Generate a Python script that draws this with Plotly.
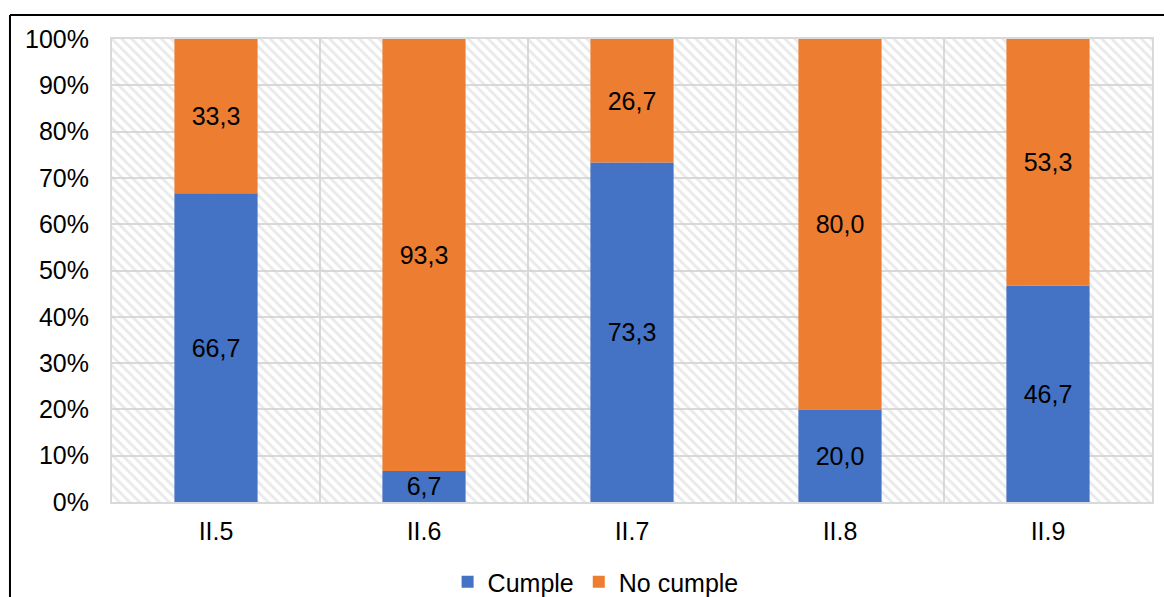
import plotly.graph_objects as go

categories = ["II.5", "II.6", "II.7", "II.8", "II.9"]
cumple = [66.7, 6.7, 73.3, 20.0, 46.7]
no_cumple = [33.3, 93.3, 26.7, 80.0, 53.3]
y_ticks = [0, 10, 20, 30, 40, 50, 60, 70, 80, 90, 100]

BLUE = "#4472C4"
ORANGE = "#ED7D31"
GRID = "#d9d9d9"
FONT = "Liberation Sans, Arial, sans-serif"
FS = 25


def fmt(v):
    return f"{v:.1f}".replace(".", ",")


fig = go.Figure()

# hatched plot-area background
fig.add_trace(go.Bar(
    x=categories, y=[100] * len(categories), width=1,
    marker=dict(color="rgba(0,0,0,0)", line=dict(width=0),
                pattern=dict(shape="\\", fgcolor="#d4d4d4", bgcolor="rgba(0,0,0,0)",
                             size=7, solidity=0.4)),
    showlegend=False, hoverinfo="skip",
))

fig.add_trace(go.Bar(
    x=categories, y=cumple, base=0, width=0.4, name="Cumple",
    marker=dict(color=BLUE, line=dict(width=0)),
    text=[fmt(v) for v in cumple], textposition="inside",
    insidetextanchor="middle", textangle=0,
    textfont=dict(family=FONT, size=FS, color="black"),
))
fig.add_trace(go.Bar(
    x=categories, y=no_cumple, base=cumple, width=0.4, name="No cumple",
    marker=dict(color=ORANGE, line=dict(width=0)),
    text=[fmt(v) for v in no_cumple], textposition="inside",
    insidetextanchor="middle", textangle=0,
    textfont=dict(family=FONT, size=FS, color="black"),
))

fig.update_layout(
    width=1164, height=597,
    margin=dict(l=112, r=12, t=39, b=95, autoexpand=False),
    barmode="overlay",
    plot_bgcolor="white", paper_bgcolor="white",
    font=dict(family=FONT, size=FS, color="black"),
    uniformtext=dict(minsize=FS, mode="show"),
    xaxis=dict(type="category", tickson="boundaries", showgrid=True,
               gridcolor=GRID, gridwidth=2, showline=True, linecolor=GRID,
               linewidth=2, mirror=True, ticks="", ticklabelstandoff=6,
               automargin=False,
               tickfont=dict(family=FONT, size=FS, color="black"),
               range=[-0.5, 4.5]),
    yaxis=dict(range=[0, 100], tickvals=y_ticks,
               ticktext=[f"{v}%" for v in y_ticks], showgrid=True,
               gridcolor=GRID, gridwidth=2, showline=True, linecolor=GRID,
               linewidth=2, mirror=True, ticks="", zeroline=False,
               ticklabelstandoff=16, automargin=False,
               tickfont=dict(family=FONT, size=FS, color="black")),
    legend=dict(orientation="h", x=0.465, xanchor="center",
                yref="container", y=15 / 597, yanchor="middle",
                font=dict(family=FONT, size=FS, color="black"),
                traceorder="normal"),
    shapes=[
        dict(type="line", xref="paper", yref="paper", x0=-0.0981, x1=-0.0981,
             y0=-0.4, y1=1.0518, line=dict(color="black", width=2)),
        dict(type="line", xref="paper", yref="paper", x0=-0.0981, x1=1.2,
             y0=1.0518, y1=1.0518, line=dict(color="black", width=2)),
    ],
)

fig.write_html(
    "out.html",
    config={"displayModeBar": False},
    post_script="document.body.style.margin='0';document.body.style.overflow='hidden';",
)
